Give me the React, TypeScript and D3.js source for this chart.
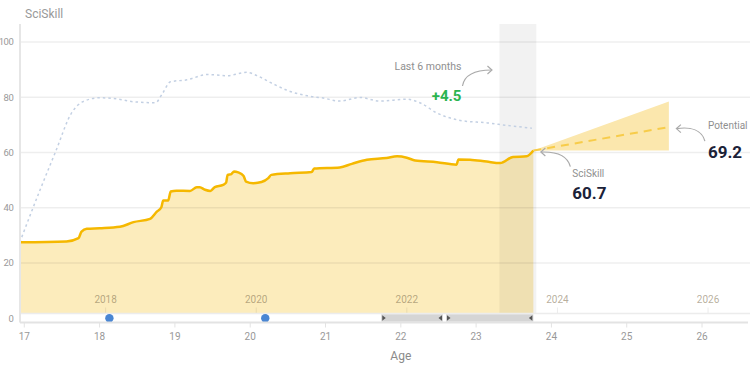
import React from 'react';
import * as d3 from 'd3';

const skillAges = [16.94, 17.56, 17.72, 17.76, 17.83, 18.0, 18.27, 18.45, 18.67, 18.76, 18.82, 18.845, 18.91, 18.945, 19.02, 19.2, 19.29, 19.33, 19.4, 19.47, 19.53, 19.64, 19.68, 19.7, 19.75, 19.785, 19.84, 19.91, 19.945, 20.04, 20.15, 20.24, 20.28, 20.53, 20.815, 20.85, 21.19, 21.35, 21.55, 21.81, 21.95, 22.08, 22.19, 22.48, 22.74, 22.765, 22.92, 23.14, 23.32, 23.49, 23.67, 23.76];
const skillValues = [27.5, 27.8, 29.0, 31.4, 32.4, 32.6, 33.1, 34.8, 36.0, 38.6, 40.2, 42.6, 42.6, 45.9, 46.2, 46.1, 47.4, 47.4, 46.5, 46.1, 47.5, 48.3, 49.1, 51.9, 52.2, 53.1, 52.8, 51.6, 49.5, 48.9, 49.3, 50.7, 51.9, 52.5, 52.9, 54.2, 54.6, 55.9, 57.4, 58.0, 58.6, 58.1, 57.1, 56.5, 55.6, 57.5, 57.4, 56.7, 56.2, 58.4, 58.6, 60.7];

const peerAges = [16.94, 17.21, 17.41, 17.63, 17.78, 18.0, 18.23, 18.44, 18.74, 18.84, 18.94, 19.16, 19.43, 19.69, 19.96, 20.09, 20.3, 20.53, 20.76, 20.97, 21.19, 21.46, 21.72, 22.08, 22.26, 22.48, 22.79, 23.15, 23.41, 23.74];
const peerValues = [27.5, 46.5, 59.9, 74.4, 78.4, 79.8, 79.4, 78.4, 78.0, 81.6, 85.6, 86.3, 88.2, 87.8, 89.0, 87.8, 84.9, 82.1, 80.5, 79.7, 78.6, 79.9, 78.6, 79.3, 77.9, 74.3, 71.6, 70.7, 69.8, 68.8];

const projAges = [23.76, 25.56];
const projMid = [60.7, 69.2];
const projUpper = [60.7, 78.5];
const projLower = [60.7, 60.7];

const yTicks = [0, 20, 40, 60, 80, 100];
const ageTicks = [17, 18, 19, 20, 21, 22, 23, 24, 25, 26];
const yearTicks = [2018, 2020, 2022, 2024, 2026];
const birthYear = 1999.92;

const eventAges = [18.13, 20.2];
const rangeStarts = [21.74, 22.6];
const rangeEnds = [22.56, 23.76];

const windowStart = 23.31;
const windowEnd = 23.8;
const currentValue = 60.7;
const potentialValue = 69.2;
const changeValue = 4.5;

const W = 750;
const H = 372;
const FONT = "Roboto, 'Noto Sans', sans-serif";

export default function App() {
  const x = d3.scaleLinear().domain([16.943, 26.637]).range([20, 750]);
  const y = d3.scaleLinear().domain([0, 106.5]).range([318.3, 24]);
  const bandTop = y(0) - 4.8;
  const axisY = y(0) + 4.2;

  const skill = skillAges.map((a, i) => [a, skillValues[i]] as [number, number]);
  const peer = peerAges.map((a, i) => [a, peerValues[i]] as [number, number]);

  const line = d3.line<[number, number]>().x(d => x(d[0])).y(d => y(d[1])).curve(d3.curveMonotoneX);
  const area = d3.area<[number, number]>().x(d => x(d[0])).y0(bandTop).y1(d => y(d[1])).curve(d3.curveMonotoneX);
  const cone = d3.area<number>().x(d => x(projAges[d])).y0(d => y(projLower[d])).y1(d => y(projUpper[d]));
  const projLine = d3.line<number>().x(d => x(projAges[d])).y(d => y(projMid[d]));

  const last = skill[skill.length - 1];
  const cx = x(last[0]);
  const cy = y(last[1]);
  const px = x(projAges[1]);
  const py = y(projMid[1]);
  const wx = x(windowStart);

  const gray = '#8f8f8f';

  return (
    <svg width={W} height={H} style={{ position: 'absolute', left: 0, top: 0, fontFamily: FONT }}>
      <rect width={W} height={H} fill="#fff" />
      <text x={25} y={18} fontSize={12} fill="#999">SciSkill</text>

      {/* area */}
      <path d={area(skill) || ''} fill="#fcecbc" />
      <path d={cone([0, 1]) || ''} fill="#fbe7ad" />

      {/* gridlines */}
      {yTicks.filter(t => t > 0).map(t => (
        <line key={t} x1={20} x2={W} y1={y(t)} y2={y(t)} stroke="#000" strokeOpacity={0.065} strokeWidth={1.5} />
      ))}
      {yTicks.map(t => (
        <text key={t} x={13.5} y={y(t)} dy="0.35em" textAnchor="end" fontSize={9.5} letterSpacing={-0.4} fill="#999">{t}</text>
      ))}

      {/* 6-month window */}
      <rect x={wx} y={24} width={x(windowEnd) - wx} height={bandTop - 24} fill="#000" fillOpacity={0.05} />

      {/* peer dotted line */}
      <path d={line(peer) || ''} fill="none" stroke="#c3d0e3" strokeWidth={1.5} strokeDasharray="2.5,3" />

      {/* skill line */}
      <path d={line(skill) || ''} fill="none" stroke="#f5b800" strokeWidth={2.5} strokeLinejoin="round" />
      <path d={projLine([0, 1]) || ''} fill="none" stroke="#f7cc4a" strokeWidth={2} strokeDasharray="8,6" />

      {/* year labels */}
      {yearTicks.map(yr => {
        const xx = x(yr - birthYear);
        return (
          <g key={yr}>
            <text x={xx} y={bandTop - 11} textAnchor="middle" fontSize={10} fill="#7a6a4a" fillOpacity={0.55}>{yr}</text>
            <line x1={xx} x2={xx} y1={bandTop - 6} y2={bandTop} stroke="#000" strokeOpacity={0.08} />
          </g>
        );
      })}

      {/* timeline band */}
      <rect x={20} y={bandTop} width={W - 20} height={axisY - bandTop} fill="#fff" />
      <line x1={20} x2={W} y1={bandTop} y2={bandTop} stroke="#ececec" strokeWidth={1.5} />
      {rangeStarts.map((s, i) => {
        const x0 = x(s);
        const x1 = x(rangeEnds[i]);
        const m = (bandTop + axisY) / 2;
        return (
          <g key={i}>
            <rect x={x0} y={bandTop + 0.8} width={x1 - x0} height={axisY - bandTop - 1.6} fill="#d5d5d5" />
            <path d={`M${x0 + 1},${m - 2.8}L${x0 + 4.5},${m}L${x0 + 1},${m + 2.8}Z`} fill="#555" />
            <path d={`M${x1 - 1},${m - 2.8}L${x1 - 4.5},${m}L${x1 - 1},${m + 2.8}Z`} fill="#555" />
          </g>
        );
      })}
      {eventAges.map((a, i) => (
        <circle key={i} cx={x(a)} cy={y(0)} r={4.2} fill="#4a86d3" />
      ))}

      {/* axes */}
      <line x1={20} x2={20} y1={24} y2={axisY} stroke="#e6e6e6" strokeWidth={2} />
      <line x1={20} x2={748} y1={axisY} y2={axisY} stroke="#e3e3e3" strokeWidth={2} />
      {ageTicks.map(t => (
        <g key={t}>
          <line x1={x(t)} x2={x(t)} y1={axisY} y2={axisY + 5} stroke="#e3e3e3" />
          <text x={x(t)} y={axisY + 17} textAnchor="middle" fontSize={10} fill="#999">{t}</text>
        </g>
      ))}
      <text x={x(22)} y={360} textAnchor="middle" fontSize={12} fill="#8a8a8a">Age</text>

      {/* annotations */}
      <text x={wx - 38} y={70} textAnchor="end" fontSize={10.5} fill={gray}>Last 6 months</text>
      <text x={wx - 38} y={101} textAnchor="end" fontSize={15} fontWeight="bold" fill="#2bb44f">+{changeValue}</text>
      <path d={`M${wx - 37},${86} C${wx - 35},${74} ${wx - 24},${70} ${wx - 8},${70}`} fill="none" stroke="#aaa" strokeWidth={1.2} />
      <path d={`M${wx - 12},${66} L${wx - 7.5},${70} L${wx - 12},${74}`} fill="none" stroke="#aaa" strokeWidth={1.2} />

      <text x={cx + 39} y={cy + 26} fontSize={10} fill={gray}>SciSkill</text>
      <text x={cx + 39} y={cy + 48} fontSize={17} fontWeight="bold" fill="#1b2238">{currentValue}</text>
      <path d={`M${cx + 37},${cy + 16} C${cx + 34},${cy + 5} ${cx + 22},${cy + 1} ${cx + 8},${cy + 1.5}`} fill="none" stroke="#aaa" strokeWidth={1.2} />
      <path d={`M${cx + 12},${cy - 2.5} L${cx + 7.5},${cy + 1.5} L${cx + 12},${cy + 5.5}`} fill="none" stroke="#aaa" strokeWidth={1.2} />

      <text x={px + 39} y={py + 2} fontSize={10} fill={gray}>Potential</text>
      <text x={px + 39} y={py + 31} fontSize={17} fontWeight="bold" fill="#1b2238">{potentialValue}</text>
      <path d={`M${px + 36},${py + 14} C${px + 33},${py + 3} ${px + 22},${py - 0.5} ${px + 8},${py + 1.5}`} fill="none" stroke="#aaa" strokeWidth={1.2} />
      <path d={`M${px + 12},${py - 2.5} L${px + 7.5},${py + 1.5} L${px + 12},${py + 5.5}`} fill="none" stroke="#aaa" strokeWidth={1.2} />
    </svg>
  );
}
